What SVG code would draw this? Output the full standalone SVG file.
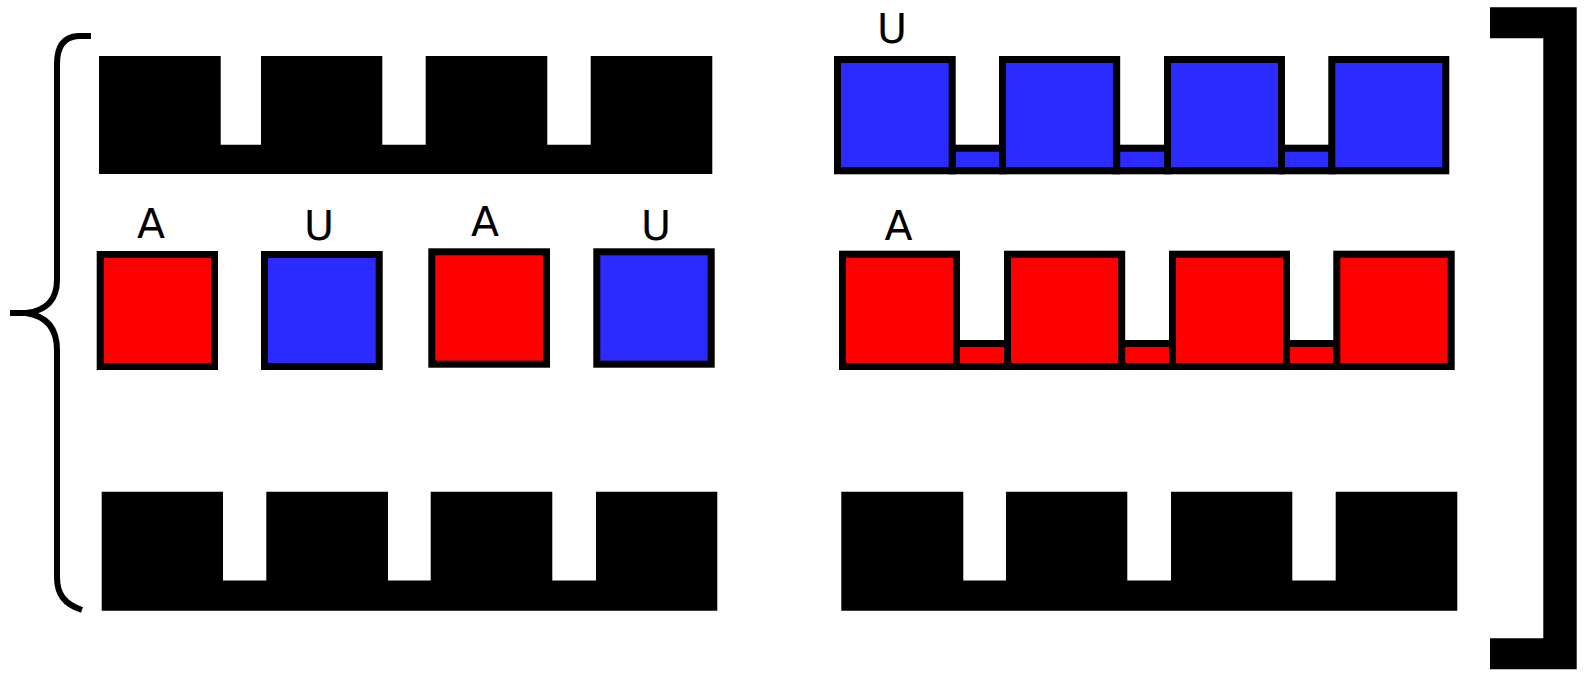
<svg xmlns="http://www.w3.org/2000/svg" width="1595" height="678" viewBox="0 0 1595 678">
<style>
.blk{fill:#000}
.r{fill:#ff0000;stroke:#000;stroke-width:7}
.b{fill:#2b2bff;stroke:#000;stroke-width:7}
.lbl{font-family:"DejaVu Sans",sans-serif;font-size:41px;fill:#000;text-anchor:middle}
.brace{fill:none;stroke:#000;stroke-width:6;stroke-linecap:butt;stroke-linejoin:round}
</style>
<rect width="1595" height="678" fill="#fff"/>
<g id="brace">
<path class="brace" d="M91 36 L78 36 C63 37 57 48 57 64 L57 280 C57 300 46 311 26 313 L10 313 M26 313 C46 316 57 328 57 350 L57 577 C57 594 64 604 82 610"/>
</g>
<g id="bracket">
<path class="blk" d="M1490 7.3 H1576.7 V669.3 H1490 V638.3 H1543.3 V38.3 H1490 Z"/>
</g>
<g id="comb-top-left">
<path class="blk" d="M99 56 H220.7 V144.7 H261 V56 H382.3 V144.7 H425.7 V56 H547.3 V144.7 H590.7 V56 H712.3 V174 H99 Z"/>
</g>
<g id="comb-bottom-left">
<path class="blk" d="M101.7 491.7 H223 V580.5 H266.3 V491.7 H388 V580.5 H430.7 V491.7 H552.3 V580.5 H596 V491.7 H717.3 V610.8 H101.7 Z"/>
</g>
<g id="comb-bottom-right">
<path class="blk" d="M841.3 491.7 H963.3 V580.5 H1006 V491.7 H1127.3 V580.5 H1171 V491.7 H1292.3 V580.5 H1335.7 V491.7 H1457.3 V610.8 H841.3 Z"/>
</g>
<g id="left-units">
<rect class="r" x="100.2" y="254.5" width="114.3" height="112"/>
<rect class="b" x="264.5" y="254.5" width="114.7" height="112"/>
<rect class="r" x="431.8" y="251.8" width="114.7" height="112.4"/>
<rect class="b" x="596.8" y="251.8" width="114.4" height="112.4"/>
<text class="lbl" x="151" y="238">A</text>
<text class="lbl" x="319" y="240">U</text>
<text class="lbl" x="485" y="236">A</text>
<text class="lbl" x="656" y="240">U</text>
</g>
<g id="blue-chain">
<rect class="b" x="952" y="148.2" width="51" height="22.6"/>
<rect class="b" x="1116" y="148.2" width="52" height="22.6"/>
<rect class="b" x="1281" y="148.2" width="51" height="22.6"/>
<rect class="b" x="837.5" y="59.5" width="114.7" height="111.3"/>
<rect class="b" x="1002.5" y="59.5" width="114.2" height="111.3"/>
<rect class="b" x="1167.5" y="59.5" width="114" height="111.3"/>
<rect class="b" x="1331.8" y="59.5" width="114" height="111.3"/>
<text class="lbl" x="892" y="43">U</text>
</g>
<g id="red-chain">
<rect class="r" x="956.5" y="343.5" width="51" height="23"/>
<rect class="r" x="1121" y="343.5" width="52" height="23"/>
<rect class="r" x="1286" y="343.5" width="51" height="23"/>
<rect class="r" x="842.5" y="254.2" width="114" height="112.3"/>
<rect class="r" x="1007.5" y="254.2" width="114.2" height="112.3"/>
<rect class="r" x="1172.5" y="254.2" width="114" height="112.3"/>
<rect class="r" x="1336.8" y="254.2" width="114.4" height="112.3"/>
<text class="lbl" x="898.5" y="240">A</text>
</g>
<g id="connectors"/>
</svg>
